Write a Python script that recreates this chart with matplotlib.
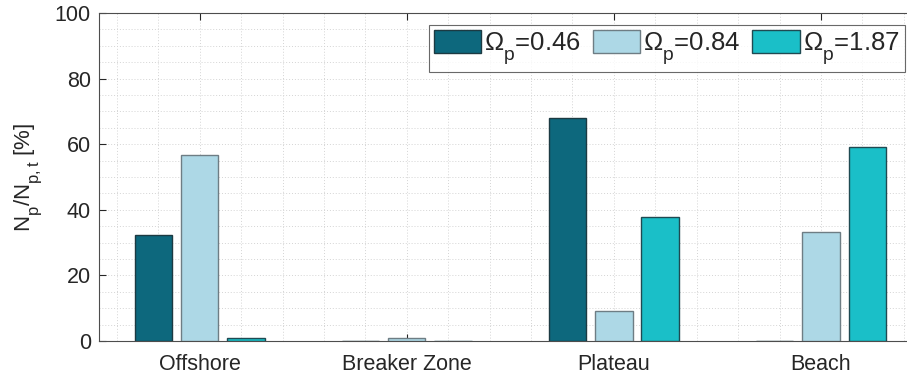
import numpy as np
import matplotlib
matplotlib.use("Agg")
import matplotlib.pyplot as plt
from matplotlib.ticker import MultipleLocator

plt.rcParams['font.family'] = ['Liberation Sans', 'DejaVu Sans']
plt.rcParams['mathtext.fontset'] = 'custom'
plt.rcParams['mathtext.rm'] = 'Liberation Sans'
plt.rcParams['mathtext.it'] = 'Liberation Sans'
plt.rcParams['mathtext.sf'] = 'Liberation Sans'

# Larger, lower subscripts in the style of TeX-interpreter labels
try:
    import matplotlib._mathtext as _mt
    _mt.SHRINK_FACTOR = 0.75
    _mt.FontConstantsBase.sub1 = 0.75
    _mt.FontConstantsBase.sub2 = 0.9
except Exception:
    pass

# Share of particles per zone for each wave steepness parameter
zones = ["Offshore", "Breaker Zone", "Plateau", "Beach"]
series_labels = [r"$\Omega_\mathrm{p}$=0.46", r"$\Omega_\mathrm{p}$=0.84", r"$\Omega_\mathrm{p}$=1.87"]
omega_046 = [32.2, 0.0, 68.0, 0.0]
omega_084 = [56.7, 1.0, 9.1, 33.3]
omega_187 = [1.0, 0.0, 37.8, 59.0]

face_colors = ["#0d687d", "#add8e6", "#1abfc8"]
edge_colors = ["#1c3a42", "#6e7d84", "#1f4a52"]

text_color = "#262626"
fs = 15.5

fig = plt.figure(figsize=(9.07, 3.77), dpi=100)
W, H = 907, 377
ax_left, ax_right = 99.3, 924.5
ax_bottom, ax_top = 341, 13
ax = fig.add_axes([ax_left / W, (H - ax_bottom) / H,
                   (ax_right - ax_left) / W, (ax_bottom - ax_top) / H])

x = np.arange(1, len(zones) + 1)
width = 0.18
offset = 0.223
for i, vals in enumerate([omega_046, omega_084, omega_187]):
    ax.bar(x + (i - 1) * offset, vals, width, color=face_colors[i],
           edgecolor=edge_colors[i], linewidth=1.0, label=series_labels[i], zorder=3)

ax.set_xlim(0.515, 4.5)
ax.set_ylim(0, 100)
ax.set_xticks(x)
ax.set_xticklabels(zones)
ax.set_yticks(np.arange(0, 101, 20))
ax.xaxis.set_minor_locator(MultipleLocator(0.2))
ax.yaxis.set_minor_locator(MultipleLocator(5))

ax.grid(True, which='both', linestyle=(0, (1, 2)), color='#d4d4d4', linewidth=0.7, zorder=0)
ax.set_axisbelow(True)

ax.tick_params(axis='both', which='major', direction='in', length=5, width=0.8,
               color='#262626', labelsize=fs, labelcolor=text_color, top=True)
ax.tick_params(axis='both', which='minor', length=0)
ax.tick_params(axis='x', which='major', pad=9)
ax.tick_params(axis='y', which='major', pad=6)

for side in ['left', 'bottom', 'top', 'right']:
    ax.spines[side].set_color('#4d4d4d')
    ax.spines[side].set_linewidth(0.8)

ax.set_ylabel(r"N$_\mathrm{p}$/N$_\mathrm{p,t}$ [%]", fontsize=16, color=text_color, labelpad=8)

leg = ax.legend(loc='upper right', bbox_to_anchor=((905 - ax_left) / (ax_right - ax_left), 1 - 12 / (ax_bottom - ax_top)),
                ncol=3, fontsize=18.5, frameon=True, fancybox=False,
                handlelength=1.85, handleheight=1.0, handletextpad=0.12,
                columnspacing=0.45, borderpad=0.2, borderaxespad=0.0)
leg.get_frame().set_edgecolor('#444444')
leg.get_frame().set_linewidth(0.8)
for t in leg.get_texts():
    t.set_color(text_color)

fig.savefig("out.png", dpi=100)
